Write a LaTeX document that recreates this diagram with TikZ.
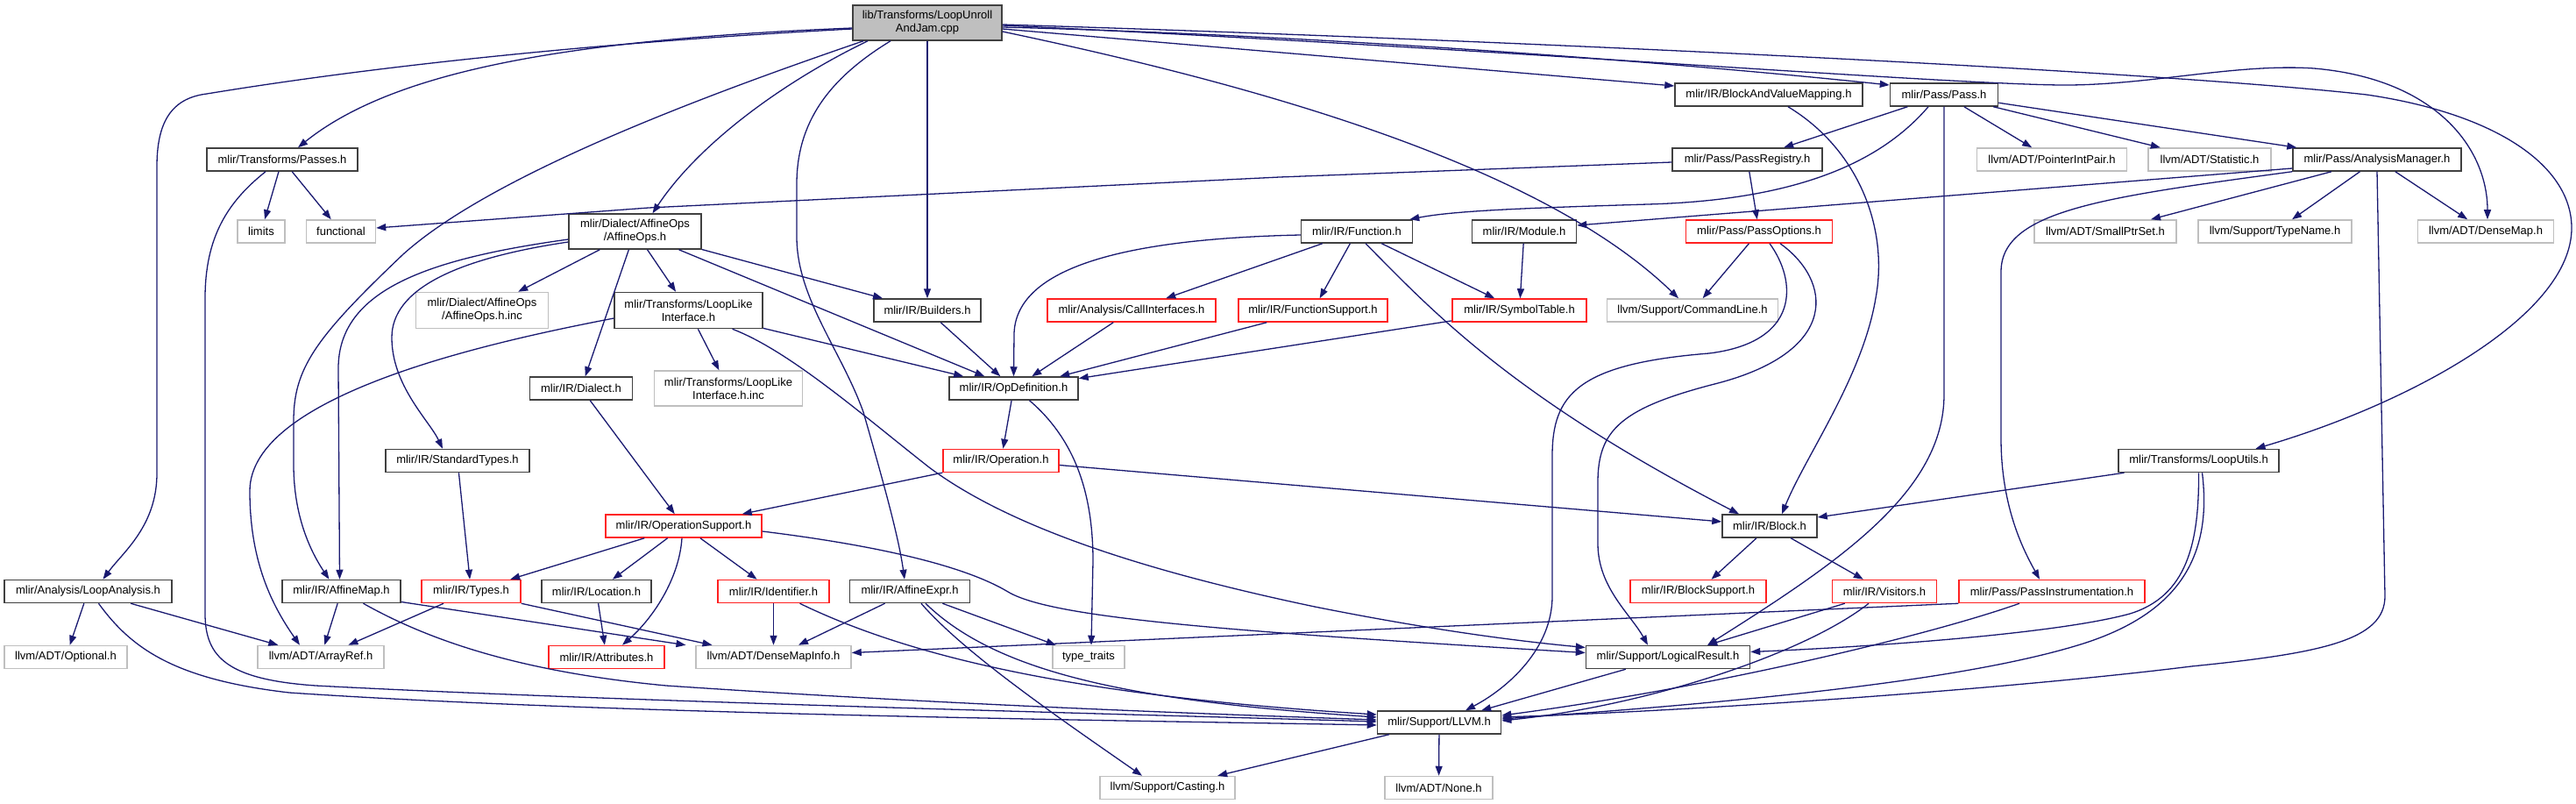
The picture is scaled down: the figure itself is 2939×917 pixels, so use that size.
\documentclass[tikz,border=0pt]{standalone}
\usepackage{fontspec}
\setmainfont{Liberation Sans}
\usetikzlibrary{arrows.meta}
\definecolor{depblue}{HTML}{191970}
\definecolor{docgray}{HTML}{404040}
\definecolor{extgray}{HTML}{BFBFBF}
\definecolor{rootfill}{HTML}{BFBFBF}
\definecolor{truncred}{HTML}{FF2020}

\begin{document}
\begin{tikzpicture}[x=1pt, y=-1pt,
  filebox/.style={draw, line width=1.5pt, minimum height=26pt, inner sep=0pt,
    align=center, font=\fontsize{13}{15}\selectfont},
  doc/.style={filebox, draw=docgray},
  ext/.style={filebox, draw=extgray},
  trunc/.style={filebox, draw=truncred},
  dep/.style={draw=depblue, line width=1.3pt, -{Triangle[length=11pt,width=8pt]}}]
  \useasboundingbox (0,0) rectangle (2939,917);

  % files
  \node[doc, fill=rootfill, minimum width=170pt, minimum height=40pt] (cpp) at (1058,26) {lib/Transforms/LoopUnroll\\AndJam.cpp};

  \node[doc, minimum width=214pt] (bvm) at (2018,108) {mlir/IR/BlockAndValueMapping.h};
  \node[doc, minimum width=123pt] (pass) at (2218,108) {mlir/Pass/Pass.h};

  \node[doc, minimum width=172pt] (passes) at (322,182) {mlir/Transforms/Passes.h};
  \node[doc, minimum width=171pt] (registry) at (1993.5,182) {mlir/Pass/PassRegistry.h};
  \node[ext, minimum width=171pt] (pip) at (2341,182) {llvm/ADT/PointerIntPair.h};
  \node[ext, minimum width=140pt] (statistic) at (2521,182) {llvm/ADT/Statistic.h};
  \node[doc, minimum width=192pt] (analysis) at (2712,182) {mlir/Pass/AnalysisManager.h};

  \node[ext, minimum width=54pt] (limits) at (298,264) {limits};
  \node[ext, minimum width=79pt] (functional) at (389,264) {functional};
  \node[doc, minimum width=151pt, minimum height=40pt] (affineops) at (724.5,264) {mlir/Dialect/AffineOps\\/AffineOps.h};
  \node[doc, minimum width=127pt] (function) at (1548,264) {mlir/IR/Function.h};
  \node[doc, minimum width=119pt] (module) at (1739,264) {mlir/IR/Module.h};
  \node[trunc, minimum width=167pt] (passoptions) at (2007,264) {mlir/Pass/PassOptions.h};
  \node[ext, minimum width=162pt] (smallptrset) at (2402,264) {llvm/ADT/SmallPtrSet.h};
  \node[ext, minimum width=175pt] (typename) at (2595.5,264) {llvm/Support/TypeName.h};
  \node[ext, minimum width=155pt] (densemap) at (2836,264) {llvm/ADT/DenseMap.h};

  \node[ext, minimum width=151pt, minimum height=41pt] (opsinc) at (550,354) {mlir/Dialect/AffineOps\\/AffineOps.h.inc};
  \node[doc, minimum width=169pt, minimum height=41pt] (looplike) at (785.5,354) {mlir/Transforms/LoopLike\\Interface.h};
  \node[doc, minimum width=122pt] (builders) at (1058,354) {mlir/IR/Builders.h};
  \node[trunc, minimum width=192pt] (callif) at (1291,354) {mlir/Analysis/CallInterfaces.h};
  \node[trunc, minimum width=170pt] (funcsupport) at (1498,354) {mlir/IR/FunctionSupport.h};
  \node[trunc, minimum width=153pt] (symtab) at (1733.5,354) {mlir/IR/SymbolTable.h};
  \node[ext, minimum width=195pt] (cmdline) at (1931,354) {llvm/Support/CommandLine.h};

  \node[doc, minimum width=117pt] (dialect) at (663,443) {mlir/IR/Dialect.h};
  \node[ext, minimum width=169pt, minimum height=40pt] (looplikeinc) at (831,443) {mlir/Transforms/LoopLike\\Interface.h.inc};
  \node[doc, minimum width=147pt] (opdef) at (1156.5,443) {mlir/IR/OpDefinition.h};

  \node[doc, minimum width=164pt] (stdtypes) at (522,525.5) {mlir/IR/StandardTypes.h};
  \node[trunc, minimum width=132pt] (operation) at (1142,525.5) {mlir/IR/Operation.h};
  \node[doc, minimum width=183pt] (looputils) at (2508.5,525.5) {mlir/Transforms/LoopUtils.h};

  \node[trunc, minimum width=178pt] (opsupport) at (780,600) {mlir/IR/OperationSupport.h};
  \node[doc, minimum width=108pt] (block) at (2019,600) {mlir/IR/Block.h};

  \node[doc, minimum width=191pt] (loopanalysis) at (100.5,674.5) {mlir/Analysis/LoopAnalysis.h};
  \node[doc, minimum width=135pt] (affinemap) at (389.5,674.5) {mlir/IR/AffineMap.h};
  \node[trunc, minimum width=113pt] (types) at (537.5,674.5) {mlir/IR/Types.h};
  \node[doc, minimum width=125pt] (location) at (680.5,674.5) {mlir/IR/Location.h};
  \node[trunc, minimum width=127pt] (identifier) at (882.5,674.5) {mlir/IR/Identifier.h};
  \node[doc, minimum width=137pt] (affineexpr) at (1038,674.5) {mlir/IR/AffineExpr.h};
  \node[trunc, minimum width=155pt] (blocksupport) at (1937.5,674.5) {mlir/IR/BlockSupport.h};
  \node[trunc, minimum width=119pt] (visitors) at (2150,674.5) {mlir/IR/Visitors.h};
  \node[trunc, minimum width=212pt] (passinstr) at (2341,674.5) {mlir/Pass/PassInstrumentation.h};

  \node[ext, minimum width=140pt] (optional) at (75,749.5) {llvm/ADT/Optional.h};
  \node[ext, minimum width=144pt] (arrayref) at (366,749.5) {llvm/ADT/ArrayRef.h};
  \node[trunc, minimum width=132pt] (attributes) at (692,749.5) {mlir/IR/Attributes.h};
  \node[ext, minimum width=177pt] (densemapinfo) at (882.5,749.5) {llvm/ADT/DenseMapInfo.h};
  \node[ext, minimum width=82pt] (typetraits) at (1242,749.5) {type\_traits};
  \node[doc, minimum width=187pt] (logical) at (1903,749.5) {mlir/Support/LogicalResult.h};

  \node[doc, minimum width=141pt] (llvm) at (1642,824) {mlir/Support/LLVM.h};

  \node[ext, minimum width=154pt] (casting) at (1332,898.5) {llvm/Support/Casting.h};
  \node[ext, minimum width=123pt] (none) at (1641.5,898.5) {llvm/ADT/None.h};

  % includes of the .cpp
  \draw[dep] ([yshift=-6pt]cpp.west) .. controls (650,45) and (450,80) .. ([xshift=18pt]passes.north);
  \draw[dep] ([yshift=-7pt]cpp.west) .. controls (650,50) and (400,80) .. (236,107) .. controls (195,112) and (179,140) .. (179,190) -- (179,540) .. controls (179,600) and (140,630) .. ([xshift=17pt]loopanalysis.north);
  \draw[dep] ([xshift=-68pt]cpp.south) .. controls (900,90) and (800,160) .. ([xshift=20pt]affineops.north);
  \draw[dep] ([xshift=-73pt]cpp.south) .. controls (800,110) and (560,200) .. (460,290) .. controls (360,385) and (335,420) .. (335,480) -- (335,530) .. controls (335,590) and (355,630) .. ([xshift=-14pt]affinemap.north);
  \draw[dep] ([xshift=-42pt]cpp.south) .. controls (945,90) and (909,140) .. (909,210) -- (909,270) .. controls (909,340) and (960,400) .. (985,470) .. controls (1005,540) and (1025,610) .. ([xshift=-6pt]affineexpr.north);
  \draw[dep] (cpp) -- (builders);
  \draw[dep] ([yshift=-10pt]cpp.east) .. controls (1400,90) and (1750,180) .. ([xshift=-16pt]cmdline.north);
  \draw[dep] ([yshift=-7pt]cpp.east) -- ([yshift=10pt]bvm.west);
  \draw[dep] ([yshift=-5pt]cpp.east) .. controls (1500,40) and (1900,70) .. ([yshift=11pt]pass.west);
  \draw[dep] ([yshift=-3pt]cpp.east) .. controls (1700,55) and (2200,95) .. (2350,97) .. controls (2450,98) and (2550,72) .. (2640,78) .. controls (2780,90) and (2838,170) .. ([xshift=2pt]densemap.north);
  \draw[dep] ([yshift=-2pt]cpp.east) .. controls (1700,45) and (2450,80) .. (2700,108) .. controls (2850,130) and (2934,190) .. (2934,260) .. controls (2934,360) and (2750,460) .. ([xshift=65pt]looputils.north);

  % left part
  \draw[dep] (passes) -- (limits);
  \draw[dep] (passes) -- (functional);
  \draw[dep] ([xshift=-19pt]passes.south) .. controls (260,230) and (234,270) .. (234,340) -- (234,700) .. controls (234,750) and (260,775) .. (360,782) .. controls (700,800) and (1300,815) .. ([yshift=1pt]llvm.west);
  \draw[dep] (loopanalysis) -- (optional);
  \draw[dep] (loopanalysis) -- (arrayref);
  \draw[dep] ([xshift=12pt]loopanalysis.south) .. controls (150,740) and (200,775) .. (330,790) .. controls (700,815) and (1300,822) .. ([yshift=-3pt]llvm.west);
  \draw[dep] (affineops) -- (opsinc);
  \draw[dep] (affineops) -- (dialect);
  \draw[dep] ([yshift=-12pt]affineops.west) .. controls (520,295) and (447,330) .. (447,385) .. controls (447,440) and (490,480) .. ([xshift=-17pt]stdtypes.north);
  \draw[dep] ([yshift=-9pt]affineops.west) .. controls (490,295) and (386,330) .. (386,420) -- ([xshift=-2pt]affinemap.north);
  \draw[dep] (affineops) -- (looplike);
  \draw[dep] (affineops) -- (builders);
  \draw[dep] (affineops) -- (opdef);
  \draw[dep] (looplike) -- (looplikeinc);
  \draw[dep] (looplike) -- (opdef);
  \draw[dep] ([xshift=50pt]looplike.south) .. controls (900,400) and (980,470) .. (1060,533) .. controls (1150,600) and (1300,650) .. (1500,692) .. controls (1650,722) and (1750,733) .. ([yshift=11pt]logical.west);
  \draw[dep] ([yshift=-9pt]looplike.west) .. controls (560,390) and (285,450) .. (285,560) .. controls (285,640) and (310,690) .. ([xshift=-24pt]arrayref.north);
  \draw[dep] (dialect) -- (opsupport);
  \draw[dep] (stdtypes) -- (types);

  % IR core
  \draw[dep] (builders) -- (opdef);
  \draw[dep] (callif) -- (opdef);
  \draw[dep] (funcsupport) -- (opdef);
  \draw[dep] (symtab) -- (opdef);
  \draw[dep] (function) -- (callif);
  \draw[dep] (function) -- (funcsupport);
  \draw[dep] (function) -- (symtab);
  \draw[dep] ([yshift=-4pt]function.west) .. controls (1300,272) and (1160,300) .. (1157,380) -- (opdef.north);
  \draw[dep] ([xshift=10pt]function.south) .. controls (1630,350) and (1720,450) .. ([xshift=-35pt]block.north);
  \draw[dep] (module) -- (symtab);
  \draw[dep] (opdef) -- (operation);
  \draw[dep] ([xshift=18pt]opdef.south) .. controls (1225,500) and (1247,560) .. (1247,640) -- ([xshift=3pt]typetraits.north);
  \draw[dep] (operation) -- (opsupport);
  \draw[dep] ([yshift=-5pt]operation.east) -- ([yshift=5pt]block.west);
  \draw[dep] (opsupport) -- (types);
  \draw[dep] (opsupport) -- (location);
  \draw[dep] ([xshift=-2pt]opsupport.south) .. controls (775,660) and (745,705) .. ([xshift=18pt]attributes.north);
  \draw[dep] (opsupport) -- (identifier);
  \draw[dep] ([yshift=-6pt]opsupport.east) .. controls (1000,622) and (1100,645) .. (1150,675) .. controls (1200,705) and (1400,720) .. ([yshift=5pt]logical.west);
  \draw[dep] (types) -- (arrayref);
  \draw[dep] (types.south east) -- ([xshift=-70pt]densemapinfo.north);
  \draw[dep] (location) -- (attributes);
  \draw[dep] (affinemap) -- (arrayref);
  \draw[dep] ([yshift=-12pt]affinemap.east) -- ([xshift=-100pt]densemapinfo.north);
  \draw[dep] ([xshift=25pt]affinemap.south) .. controls (480,725) and (580,765) .. (760,782) .. controls (1100,805) and (1400,815) .. ([yshift=3pt]llvm.west);
  \draw[dep] (identifier) -- (densemapinfo);
  \draw[dep] ([xshift=30pt]identifier.south) .. controls (1050,755) and (1250,795) .. ([yshift=9pt]llvm.west);
  \draw[dep] (affineexpr) -- (densemapinfo);
  \draw[dep] (affineexpr) -- (typetraits);
  \draw[dep] ([xshift=13pt]affineexpr.south) .. controls (1100,745) and (1210,820) .. ([xshift=-29pt]casting.north);
  \draw[dep] ([xshift=18pt]affineexpr.south) .. controls (1140,770) and (1300,800) .. ([yshift=6pt]llvm.west);

  % passes
  \draw[dep] (pass) -- (registry);
  \draw[dep] ([xshift=-18pt]pass.south) .. controls (2150,180) and (2060,228) .. (1880,233) .. controls (1750,237) and (1660,240) .. ([xshift=-4pt]function.north east);
  \draw[dep] (pass) -- (pip);
  \draw[dep] (pass) -- (statistic);
  \draw[dep] (pass) -- (analysis);
  \draw[dep] (pass.south) -- (2218,450) .. controls (2218,560) and (2100,640) .. ([xshift=45pt]logical.north);
  \draw[dep] ([yshift=-3pt]registry.west) -- (1460,202) -- (740,237) -- ([yshift=4pt]functional.east);
  \draw[dep] (registry) -- (passoptions);
  \draw[dep] (passoptions) -- (cmdline);
  \draw[dep] ([xshift=12pt]passoptions.south) .. controls (2050,320) and (2055,390) .. (1950,403) .. controls (1800,415) and (1771,450) .. (1771,520) -- (1771,680) .. controls (1771,740) and (1720,785) .. ([xshift=30pt]llvm.north);
  \draw[dep] ([xshift=24pt]passoptions.south) .. controls (2090,320) and (2100,400) .. (1960,437) .. controls (1850,465) and (1823,490) .. (1823,550) -- (1823,620) .. controls (1823,670) and (1860,700) .. ([xshift=-23pt]logical.north);
  \draw[dep] ([xshift=22pt]bvm.south) .. controls (2120,170) and (2155,260) .. (2140,340) .. controls (2125,430) and (2060,520) .. ([xshift=14pt]block.north);
  \draw[dep] ([yshift=-10pt]analysis.west) -- ([yshift=7pt]module.east);
  \draw[dep] (analysis.south west) .. controls (2400,225) and (2283,240) .. (2283,310) -- (2283,500) .. controls (2283,580) and (2310,630) .. ([xshift=-14pt]passinstr.north);
  \draw[dep] (analysis) -- (smallptrset);
  \draw[dep] (analysis) -- (typename);
  \draw[dep] (analysis) -- (densemap);
  \draw[dep] (analysis.south) -- (2721,680) .. controls (2721,730) and (2650,745) .. (2500,760) .. controls (2300,785) and (1950,810) .. ([yshift=6pt]llvm.east);
  \draw[dep] ([xshift=-85pt]looputils.south) -- ([yshift=10pt]block.east);
  \draw[dep] (looputils.south) .. controls (2509,620) and (2495,680) .. (2430,700) .. controls (2350,722) and (2150,737) .. ([yshift=6pt]logical.east);
  \draw[dep] ([xshift=4pt]looputils.south) .. controls (2525,640) and (2480,700) .. (2380,733) .. controls (2250,775) and (2000,800) .. ([yshift=4pt]llvm.east);
  \draw[dep] (passinstr.south west) -- ([yshift=5pt]densemapinfo.east);
  \draw[dep] ([xshift=-37pt]passinstr.south) .. controls (2200,725) and (1950,785) .. ([yshift=8pt]llvm.east);

  % bottom
  \draw[dep] (block) -- (blocksupport);
  \draw[dep] (block) -- (visitors);
  \draw[dep] (visitors) -- (logical);
  \draw[dep] ([xshift=-18pt]visitors.south) .. controls (2060,745) and (1880,805) .. ([yshift=2pt]llvm.east);
  \draw[dep] (logical) -- (llvm);
  \draw[dep] (llvm) -- (none);
  \draw[dep] (llvm) -- (casting);
\end{tikzpicture}
\end{document}
